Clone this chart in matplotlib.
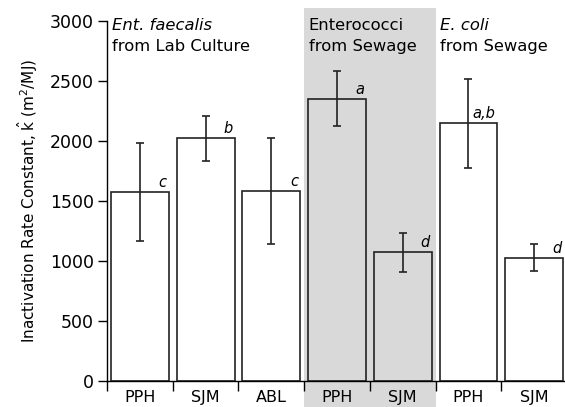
import matplotlib
matplotlib.use("Agg")
import matplotlib.pyplot as plt
import matplotlib.transforms as mtransforms
from matplotlib.patches import Rectangle

# data
categories = ["PPH", "SJM", "ABL", "PPH", "SJM", "PPH", "SJM"]
k_values = [1570, 2020, 1580, 2350, 1070, 2145, 1025]
k_errors = [410, 190, 440, 230, 165, 370, 115]
letters = ["c", "b", "c", "a", "d", "a,b", "d"]
group_titles = [("Ent. faecalis", "from Lab Culture"),
                ("Enterococci", "from Sewage"),
                ("E. coli", "from Sewage")]
group_italic = [True, False, True]
group_start = [0, 3, 5]
shaded = (3, 4)

plt.rcParams["font.family"] = ["DejaVu Sans"]

fig = plt.figure(figsize=(5.65, 4.07), dpi=100)
ax = fig.add_axes([0.1894, 0.0651, 0.8142, 0.8833])
ax.set_zorder(1)
ax.patch.set_alpha(0)

x = list(range(len(categories)))

# grey band behind the sewage enterococci, runs past the axes top and bottom
trans = mtransforms.blended_transform_factory(ax.transData, fig.transFigure)
fig.patches.append(Rectangle((shaded[0] - 0.5, 0.0), shaded[1] - shaded[0] + 1, 0.98,
                             transform=trans, facecolor="#d9d9d9", edgecolor="none", zorder=0))

ax.bar(x, k_values, width=0.88, color="white", edgecolor="#222222", linewidth=1.2, zorder=2)
for i in range(shaded[0], shaded[1] + 1):
    ax.patches[i].set_facecolor("#d9d9d9")
ax.errorbar(x, k_values, yerr=k_errors, fmt="none", ecolor="#222222", elinewidth=1.2,
            capsize=3.0, capthick=1.2, zorder=3)

for xi, v, lab in zip(x, k_values, letters):
    ax.annotate(lab, (xi + 0.41, v), xytext=(0, 1.5), textcoords="offset points",
                ha="right", va="bottom", fontsize=10.5, style="italic", zorder=4)

for (l1, l2), it, gs in zip(group_titles, group_italic, group_start):
    ax.text(gs - 0.43, 2965, l1, ha="left", va="center", fontsize=11.8,
            style="italic" if it else "normal")
    ax.text(gs - 0.43, 2790, l2, ha="left", va="center", fontsize=11.8)

ax.set_xlim(-0.5, len(categories) - 0.5)
ax.set_ylim(0, 3000)
ax.set_yticks(range(0, 3001, 500))
ax.set_xticks([i - 0.5 for i in range(len(categories))])
ax.set_xticklabels([])
ax.set_xticks(x, minor=True)
ax.set_xticklabels(categories, minor=True, fontsize=11.5)
ax.tick_params(axis="x", which="minor", length=0, pad=7)
ax.tick_params(axis="x", which="major", direction="out", length=7, width=1.0)
ax.tick_params(axis="y", direction="out", length=6.5, width=1.0, labelsize=12.5, pad=3)

for side in ("top", "right"):
    ax.spines[side].set_visible(False)
for side in ("left", "bottom"):
    ax.spines[side].set_linewidth(1.0)

ax.set_ylabel("Inactivation Rate Constant, $\\hat{\\mathrm{k}}$ (m$^2$/MJ)", fontsize=11, labelpad=7)

fig.savefig("out.png", dpi=100)
